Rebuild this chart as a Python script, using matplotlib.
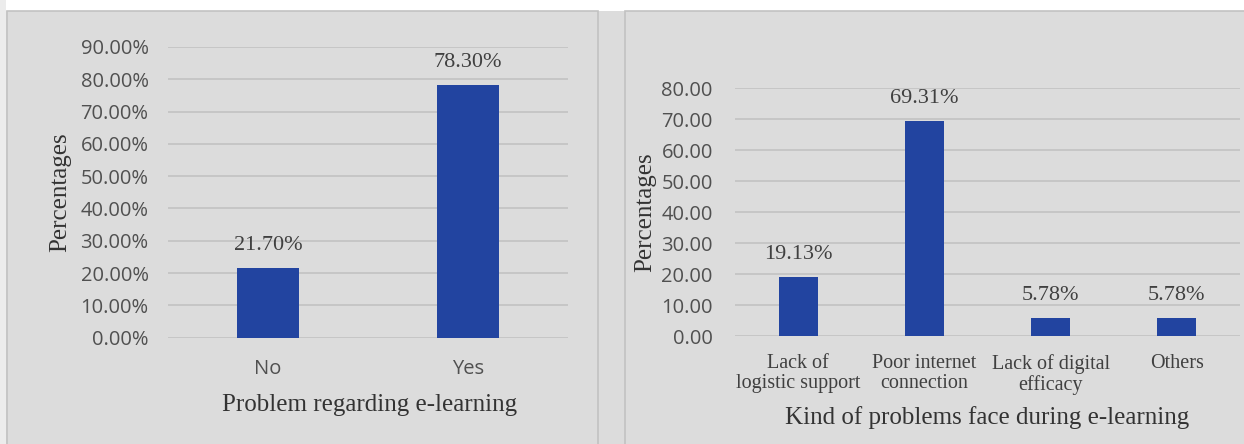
import matplotlib
matplotlib.use("Agg")
import matplotlib.pyplot as plt
import matplotlib.patches as patches
from matplotlib.ticker import FuncFormatter

# 左: e-learning で問題があったか
left_cats = ["No", "Yes"]
left_vals = [21.70, 78.30]
left_ticks = [0, 10, 20, 30, 40, 50, 60, 70, 80, 90]

# 右: 問題の種類
right_cats = ["Lack of\nlogistic support", "Poor internet\nconnection",
              "Lack of digital\nefficacy", "Others"]
right_vals = [19.13, 69.31, 5.78, 5.78]
right_ticks = [0, 10, 20, 30, 40, 50, 60, 70, 80]

BAR = "#2244a0"
BG = "#dcdcdc"
GRID = "#c4c4c4"
TICK = "#505050"
SERIF = "Liberation Serif"
SANS = "Open Sans"

W, H = 1244, 444
fig = plt.figure(figsize=(W / 100, H / 100), dpi=100, facecolor=BG)


def px_rect(x0, y0, x1, y1, **kw):
    # ピクセル座標（上から）で図全体に矩形を置く
    r = patches.Rectangle((x0 / W, 1 - y1 / H), (x1 - x0) / W, (y1 - y0) / H,
                          transform=fig.transFigure, **kw)
    fig.patches.append(r)


# 上端の白い帯とパネル枠
px_rect(0, 0, W, 11, facecolor="white", edgecolor="none")
px_rect(0, 0, 6, H, facecolor="#ececec", edgecolor="none")
px_rect(7, 11, 598, H + 2, facecolor="none", edgecolor="#c2c2c2", lw=1.2)
px_rect(625, 11, W + 2, H + 2, facecolor="none", edgecolor="#c2c2c2", lw=1.2)


def setup(ax, ticks, fmt, ypad):
    ax.set_facecolor("none")
    for s in ax.spines.values():
        s.set_visible(False)
    ax.set_yticks(ticks)
    ax.yaxis.set_major_formatter(FuncFormatter(fmt))
    ax.grid(axis="y", color=GRID, lw=1.3)
    ax.set_axisbelow(True)
    ax.tick_params(axis="y", length=0, pad=ypad, labelsize=14.5, labelcolor=TICK)
    for t in ax.get_yticklabels():
        t.set_fontfamily(SANS)


def bar_labels(ax, xs, vals):
    for x, v in zip(xs, vals):
        ax.annotate(f"{v:.2f}%", (x, v), xytext=(0, 16), textcoords="offset points",
                    ha="center", va="center", fontsize=16, color="#404040",
                    family=SERIF)


# 左のグラフ
ax1 = fig.add_axes([168 / W, 1 - 337.7 / H, 400 / W, 290.7 / H])
x1 = range(len(left_cats))
ax1.bar(x1, left_vals, width=0.31, color=BAR)
ax1.set_xlim(-0.5, 1.5)
ax1.set_ylim(0, 90)
setup(ax1, left_ticks, lambda v, p: f"{v:.2f}%", 14)
ax1.set_xticks(list(x1))
ax1.set_xticklabels(left_cats, family=SANS, fontsize=14.5, color=TICK)
ax1.tick_params(axis="x", length=0, pad=15)
bar_labels(ax1, x1, left_vals)
ax1.set_xlabel("Problem regarding e-learning", family=SERIF, fontsize=18, color="#333333")
ax1.xaxis.set_label_coords(0.505, -0.2315)
ax1.xaxis.label.set_va("center")
ax1.set_ylabel("Percentages", family=SERIF, fontsize=18, color="#333333")
ax1.yaxis.set_label_coords(-0.27, 0.5)
ax1.yaxis.label.set_va("center")

# 右のグラフ
ax2 = fig.add_axes([735 / W, 1 - 336 / H, 505 / W, 248 / H])
x2 = range(len(right_cats))
ax2.bar(x2, right_vals, width=0.31, color=BAR)
ax2.set_xlim(-0.5, 3.5)
ax2.set_ylim(0, 80)
setup(ax2, right_ticks, lambda v, p: f"{v:.2f}", 16)
ax2.set_xticks(list(x2))
ax2.set_xticklabels(right_cats, family=SERIF, fontsize=14.5, color="#404040",
                    linespacing=1.1)
ax2.tick_params(axis="x", length=0, pad=13)
bar_labels(ax2, x2, right_vals)
ax2.set_xlabel("Kind of problems face during e-learning", family=SERIF,
               fontsize=18, color="#333333")
ax2.xaxis.set_label_coords(0.5, -0.33)
ax2.xaxis.label.set_va("center")
ax2.set_ylabel("Percentages", family=SERIF, fontsize=18, color="#333333")
ax2.yaxis.set_label_coords(-0.178, 0.5)
ax2.yaxis.label.set_va("center")

fig.savefig("out.png", dpi=100, facecolor=fig.get_facecolor())
